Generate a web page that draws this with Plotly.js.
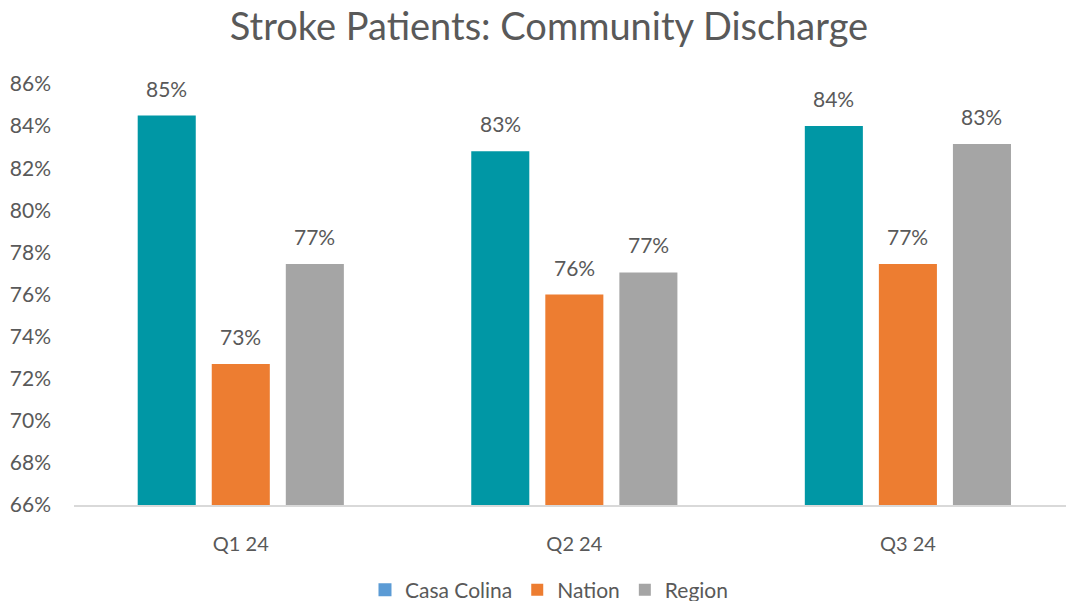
<!DOCTYPE html>
<html>
<head>
<meta charset="utf-8">
<script src="https://cdn.plot.ly/plotly-3.0.1.min.js"></script>
<style>html,body{margin:0;padding:0;background:#fff;}#chart{width:1066px;height:601px;}</style>
</head>
<body>
<div id="chart"></div>
<script>
const categories = ['Q1 24', 'Q2 24', 'Q3 24'];
const seriesNames = ['Casa Colina', 'Nation', 'Region'];
const casaColina = [84.5, 82.8, 84.0];
const nation = [72.7, 76.0, 77.45];
const region = [77.45, 77.05, 83.15];
const yTickVals = [66, 68, 70, 72, 74, 76, 78, 80, 82, 84, 86];
const yTickText = ['66%', '68%', '70%', '72%', '74%', '76%', '78%', '80%', '82%', '84%', '86%'];

const barColors = ['#0097A5', '#ED7D31', '#A5A5A5'];
const legendColors = ['#5B9BD5', '#ED7D31', '#A5A5A5'];
const seriesValues = [casaColina, nation, region];
const FONT = 'Lato, "Open Sans", sans-serif';
const TXT = '#595959';

const traces = [];
// legend swatch for Casa Colina (blue in the reference legend)
traces.push({
  type: 'scatter', mode: 'markers', x: categories, y: [null, null, null],
  name: seriesNames[0], legendgroup: 'casa', showlegend: true,
  marker: {symbol: 'square', size: 13, color: legendColors[0]},
  hoverinfo: 'skip'
});
seriesValues.forEach((vals, i) => {
  traces.push({
    type: 'bar', x: categories, y: vals, name: seriesNames[i],
    legendgroup: i === 0 ? 'casa' : seriesNames[i],
    showlegend: i !== 0,
    marker: {color: barColors[i]},
    hoverinfo: 'skip'
  });
});

const bargap = 0.334, bargroupgap = 0.216;
const slot = (1 - bargap) / 3;
const annotations = [];
seriesValues.forEach((vals, s) => {
  vals.forEach((v, c) => {
    annotations.push({
      x: c + (s - 1) * slot, y: v, xref: 'x', yref: 'y',
      text: Math.round(v) + '%', showarrow: false,
      yanchor: 'bottom', yshift: 13,
      font: {family: FONT, size: 21, color: TXT}
    });
  });
});

const layout = {
  width: 1066, height: 601,
  margin: {l: 74, r: 0, t: 84, b: 96},
  paper_bgcolor: '#fff', plot_bgcolor: '#fff',
  font: {family: FONT, color: TXT},
  title: {text: 'Stroke Patients: Community Discharge', x: 0.515, xref: 'container', xanchor: 'center',
          y: 1 - 27 / 601, yref: 'container', yanchor: 'middle',
          font: {family: FONT, size: 38, color: TXT}},
  barmode: 'group', bargap: bargap, bargroupgap: bargroupgap,
  xaxis: {
    type: 'category', range: [-0.5, 2.474],
    showline: true, linecolor: '#D9D9D9', linewidth: 1.5,
    showgrid: false, zeroline: false, ticks: '',
    ticklabelstandoff: 20,
    tickfont: {family: FONT, size: 20, color: TXT}
  },
  yaxis: {
    range: [66, 86], tickvals: yTickVals, ticktext: yTickText,
    showline: false, showgrid: false, zeroline: false, ticks: '',
    ticklabelstandoff: 22,
    tickfont: {family: FONT, size: 21, color: TXT}
  },
  showlegend: true,
  legend: {orientation: 'h', x: 0.515, xref: 'container', xanchor: 'center',
           y: 1 - 590 / 601, yref: 'container', yanchor: 'middle',
           font: {family: FONT, size: 21, color: TXT}, traceorder: 'normal', itemclick: false},
  annotations: annotations
};

Plotly.newPlot('chart', traces, layout, {staticPlot: true, displayModeBar: false});
</script>
</body>
</html>
